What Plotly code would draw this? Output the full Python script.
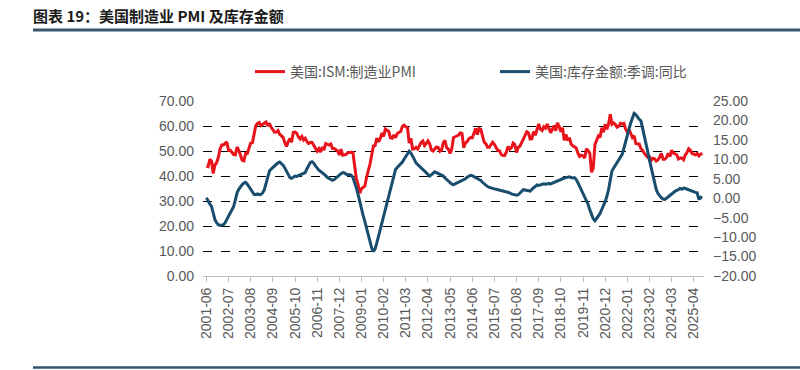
import plotly.graph_objects as go

# ---- data ----
start_year, start_month, n_months = 2001, 6, 292
months = []
y, m = start_year, start_month
for _ in range(n_months):
    months.append(f"{y}-{m:02d}")
    m += 1
    if m > 12:
        m = 1
        y += 1

pmi = [
    44.0, 43.8, 46.7, 46.0, 41.0, 44.4, 45.3,
    47.5, 50.7, 52.4, 52.4, 53.1, 53.6, 50.2, 50.3, 49.5, 48.6, 48.5, 51.6,
    50.3, 48.3, 46.3, 46.1, 49.0, 49.0, 51.0, 53.2, 53.4, 56.5, 60.1, 61.0,
    61.4, 60.2, 60.6, 61.0, 61.6, 60.0, 61.1, 59.5, 58.5, 57.5, 57.6, 58.2,
    56.7, 55.9, 55.5, 53.3, 51.8, 53.7, 55.0, 53.5, 57.5, 57.6, 57.1, 55.6,
    54.8, 55.8, 54.4, 55.1, 53.7, 53.0, 53.5, 53.4, 52.2, 51.3, 49.9, 50.9,
    49.6, 51.6, 50.4, 53.0, 52.8, 52.4, 52.8, 51.0, 51.0, 50.4, 50.0, 48.4,
    50.7, 48.3, 48.6, 48.6, 49.3, 49.5, 49.5, 49.3, 43.4, 38.7, 36.6, 33.1,
    34.9, 35.5, 36.0, 39.5, 41.7, 44.8, 48.4, 52.0, 52.2, 55.2, 53.7, 54.9,
    57.2, 55.8, 58.8, 58.1, 57.8, 55.3, 55.1, 56.4, 55.3, 57.0, 57.3, 57.8,
    59.8, 60.3, 59.7, 59.3, 53.2, 55.1, 50.8, 50.9, 51.5, 50.8, 52.1, 53.4,
    54.0, 52.2, 53.0, 54.1, 53.0, 50.4, 50.0, 50.7, 51.6, 51.4, 49.9, 50.4,
    53.3, 54.2, 51.3, 50.7, 49.0, 50.9, 55.4, 55.7, 56.2, 56.4, 57.3, 57.0,
    51.3, 53.2, 53.7, 54.9, 55.4, 55.3, 57.1, 59.0, 56.6, 59.0, 58.7, 55.5,
    53.5, 52.9, 51.5, 51.5, 52.8, 53.5, 52.7, 51.1, 50.2, 50.1, 48.6, 48.2,
    48.2, 49.5, 51.8, 50.8, 51.3, 53.2, 52.6, 49.4, 51.5, 51.9, 53.2, 54.7,
    56.0, 57.7, 57.2, 54.8, 54.9, 57.8, 56.3, 58.8, 60.8, 58.7, 58.2, 59.7,
    59.1, 60.8, 59.3, 57.3, 58.7, 60.2, 58.1, 61.3, 59.8, 57.7, 59.3, 54.3,
    56.6, 54.2, 55.3, 52.8, 52.1, 51.7, 51.2, 49.1, 47.8, 48.3, 48.1, 47.2,
    50.9, 50.1, 49.1, 41.5, 43.1, 52.6, 54.2, 56.0, 55.4, 59.3, 57.5, 60.7,
    58.7, 60.8, 64.7, 60.7, 61.2, 60.6, 59.5, 59.9, 61.1, 60.8, 61.1, 58.7,
    57.6, 58.6, 57.1, 55.4, 56.1, 53.0, 52.8, 52.8, 50.9, 50.2, 49.0, 48.4,
    47.4, 47.7, 46.3, 47.1, 46.9, 46.0, 46.4, 47.6, 49.0, 46.7, 46.7, 47.4,
    49.1, 47.8, 50.3, 49.2, 48.7, 48.5, 46.8, 47.2, 47.2, 46.5, 48.4, 49.3,
    50.9, 50.3, 49.0, 48.7, 48.5, 49.0, 48.0, 48.7, 49.1,
]

inventory_yoy = [
    0.1, -0.8, -1.5, -2.1, -3.8, -5.5, -6.3,
    -6.8, -7.0, -6.9, -6.8, -6.3, -5.4, -4.6, -3.8, -2.9, -2.1, -0.4, 1.4,
    2.3, 3.0, 3.5, 3.9, 4.1, 3.6, 2.9, 2.2, 1.6, 1.0, 0.9, 1.1,
    0.9, 1.0, 1.4, 2.2, 3.8, 5.5, 7.0, 7.5, 7.9, 8.3, 8.8, 9.1,
    9.3, 9.0, 8.5, 7.8, 7.0, 6.0, 5.3, 5.1, 5.5, 5.7, 5.6, 5.8,
    5.9, 6.0, 6.3, 6.6, 7.6, 8.6, 9.2, 9.4, 9.0, 8.3, 7.6, 7.2,
    6.9, 6.6, 6.2, 5.8, 5.3, 5.0, 4.8, 4.6, 4.8, 5.2, 5.7, 6.0,
    6.3, 6.6, 6.5, 6.2, 6.0, 6.1, 5.9, 5.3, 4.2, 2.6, 1.0, -1.0,
    -2.9, -4.5, -6.0, -7.6, -9.6, -11.5, -12.8, -13.7, -13.0, -11.5, -9.8, -8.2,
    -6.5, -4.7, -2.9, -1.1, 0.5, 2.2, 3.9, 5.7, 7.4, 7.9, 8.3, 8.7,
    9.3, 10.0, 10.7, 11.3, 12.1, 11.6, 10.9, 10.0, 9.1, 8.6, 8.1, 7.8,
    7.4, 7.0, 6.5, 6.1, 5.7, 6.0, 6.4, 6.8, 6.6, 6.4, 6.3, 6.1,
    5.7, 5.2, 4.8, 4.3, 3.9, 3.6, 3.5, 3.7, 3.9, 4.2, 4.3, 4.4,
    4.7, 5.0, 5.4, 5.7, 5.9, 5.8, 5.6, 5.3, 5.2, 4.9, 4.6, 4.1,
    3.7, 3.3, 3.0, 2.8, 2.6, 2.5, 2.4, 2.3, 2.2, 2.1, 1.9, 1.8,
    1.8, 1.7, 1.5, 1.4, 1.1, 1.0, 1.0, 0.8, 0.9, 1.3, 1.8, 2.2,
    2.1, 1.9, 1.9, 1.8, 2.3, 2.7, 3.0, 3.4, 3.3, 3.4, 3.5, 3.7,
    3.6, 3.7, 3.8, 3.7, 3.9, 4.1, 4.3, 4.6, 4.7, 4.9, 5.1, 5.2,
    5.3, 5.4, 5.5, 5.3, 5.2, 5.3, 4.8, 4.0, 3.1, 2.2, 1.2, 0.0,
    -0.6, -1.6, -3.0, -4.3, -5.3, -5.8, -5.2, -4.6, -3.9, -2.9, -2.0, -0.9,
    0.5, 2.2, 4.7, 7.0, 7.8, 8.5, 9.3, 10.0, 10.7, 11.3, 12.9, 14.6,
    16.5, 18.0, 19.4, 20.6, 21.8, 21.5, 20.8, 20.3, 19.9, 18.1, 16.0, 13.9,
    11.9, 9.8, 7.8, 5.8, 3.9, 2.2, 1.2, 0.5, 0.1, -0.2, -0.3, 0.0,
    0.4, 0.8, 1.1, 1.4, 1.8, 2.0, 2.2, 2.5, 2.3, 2.6, 2.5, 2.3,
    2.1, 2.0, 1.8, 1.6, 1.5, 1.4, -0.3, 0.2, 0.0,
]

tick_labels = [
    "2001-06", "2002-07", "2003-08", "2004-09", "2005-10", "2006-11",
    "2007-12", "2009-01", "2010-02", "2011-03", "2012-04", "2013-05",
    "2014-06", "2015-07", "2016-08", "2017-09", "2018-10", "2019-11",
    "2020-12", "2022-01", "2023-02", "2024-03", "2025-04",
]

name_pmi = "美国:ISM:制造业PMI"
name_inv = "美国:库存金额:季调:同比"
title_text = "图表 19：美国制造业 PMI 及库存金额"

# ---- figure (zero margins, axes placed by domain) ----
W, H = 800, 370
plot_left, plot_right, plot_top, plot_bottom = 203, 704, 101, 276

def fx(px):
    return px / W

def fy(py):
    return (H - py) / H

cjk = "Noto Sans CJK SC"
num_font = "Liberation Sans"
gray = "#595959"
rule = "#36546c"

fig = go.Figure()
fig.add_trace(go.Scatter(x=months, y=pmi, name=name_pmi, mode="lines",
                         line=dict(color="#e8141c", width=3)))
fig.add_trace(go.Scatter(x=months, y=inventory_yoy, name=name_inv, mode="lines",
                         yaxis="y2", line=dict(color="#194d6e", width=3)))

fig.update_layout(
    width=W, height=H,
    margin=dict(l=0, r=0, t=0, b=0, pad=0),
    paper_bgcolor="white", plot_bgcolor="white",
    showlegend=True,
    title=dict(text=f"<b>{title_text}</b>", x=fx(33), xref="paper", xanchor="left",
               y=fy(17), yref="paper", yanchor="middle", automargin=False,
               font=dict(family=cjk, size=15, color="#1a1a1a")),
    legend=dict(orientation="h", x=fx(250), xanchor="left", y=fy(72), yanchor="middle",
                entrywidth=200, entrywidthmode="pixels", bgcolor="rgba(0,0,0,0)",
                font=dict(family=cjk, size=14, color=gray)),
    xaxis=dict(domain=[fx(plot_left), fx(plot_right)], automargin=False,
               type="category", categoryorder="array", categoryarray=months,
               tickmode="array", tickvals=tick_labels, ticktext=tick_labels,
               tickangle=-90, ticks="outside", ticklen=5, tickcolor="#bfbfbf",
               showline=True, linecolor="#bfbfbf", linewidth=1,
               showgrid=False, range=[-2, n_months],
               tickfont=dict(family=num_font, size=14, color=gray)),
    yaxis=dict(domain=[fy(plot_bottom), fy(plot_top)], automargin=False,
               range=[0, 70], dtick=10, tick0=0, tickformat=".2f",
               showgrid=True, gridcolor="black", gridwidth=1, griddash="dash",
               zeroline=False, showline=False, ticks="",
               ticklabelstandoff=8,
               tickfont=dict(family=num_font, size=14, color=gray)),
    yaxis2=dict(range=[-20, 25], dtick=5, tick0=0, tickformat=".2f", automargin=False,
                overlaying="y", side="right", showgrid=False, zeroline=False,
                showline=False, ticks="", ticklabelstandoff=8,
                tickfont=dict(family=num_font, size=14, color=gray)),
    shapes=[
        dict(type="line", xref="paper", yref="paper", x0=fx(33), x1=1,
             y0=fy(30), y1=fy(30), line=dict(color=rule, width=3)),
        dict(type="line", xref="paper", yref="paper", x0=fx(33), x1=1,
             y0=fy(367.5), y1=fy(367.5), line=dict(color=rule, width=2.5)),
    ],
)

fig.write_html(
    "out.html",
    config={"displayModeBar": False},
    post_script="document.body.style.margin='0';",
)
